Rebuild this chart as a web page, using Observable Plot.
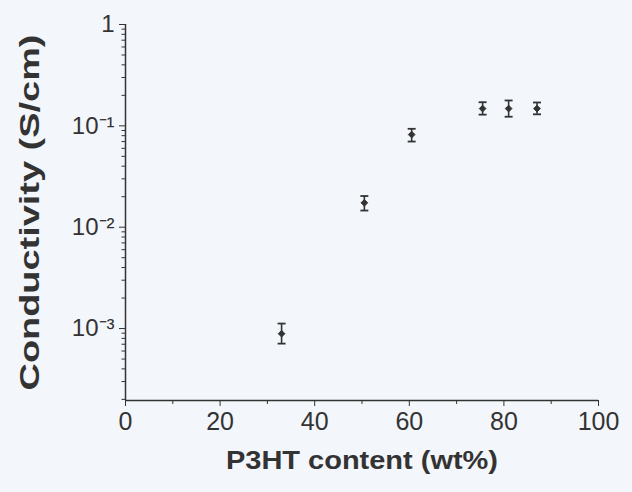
<!DOCTYPE html>
<html>
<head>
<meta charset="utf-8">
<script src="https://cdn.jsdelivr.net/npm/d3@7"></script>
<script src="https://cdn.jsdelivr.net/npm/@observablehq/plot@0.6"></script>
<style>
  html, body { margin: 0; padding: 0; background: #f3f6fa; }
  svg { display: block; }
</style>
</head>
<body>
<div id="chart"></div>
<script>
// Data
const content      = [33, 50.5, 60.5, 75.5, 81, 87];             // P3HT content (wt%)
const conductivity = [8.9e-4, 0.0174, 0.082, 0.148, 0.148, 0.148]; // S/cm
const errLow       = [7.1e-4, 0.0146, 0.070, 0.129, 0.123, 0.130];
const errHigh      = [1.12e-3, 0.0203, 0.0935, 0.171, 0.178, 0.170];

const xTicks = [0, 20, 40, 60, 80, 100];
const xMinorTicks = [10, 30, 50, 70, 90];
const yTicks = [1e-3, 1e-2, 1e-1, 1];
const yTickLabels = ["10\u207B\u00B3", "10\u207B\u00B2", "10\u207B\u00B9", "1"];
const yDomain = [1.95e-4, 1];
const xDomain = [0, 100];

const xLabel = "P3HT content (wt%)";
const yLabel = "Conductivity (S/cm)";

const rows = content.map((c, i) => ({x: c, y: conductivity[i], lo: errLow[i], hi: errHigh[i]}));

const yMinor = [];
for (let k = -4; k < 0; k++) {
  for (let d = 2; d <= 9; d++) {
    const v = d * Math.pow(10, k);
    if (v >= yDomain[0] && v <= yDomain[1]) yMinor.push(v);
  }
}

const ink = "#333";
const font = "Liberation Sans, Arial, Helvetica, sans-serif";

const capSymbol = {
  draw(context, size) {
    const w = Math.sqrt(size) / 2;
    context.moveTo(-w, 0);
    context.lineTo(w, 0);
  }
};

const chart = Plot.plot({
  width: 632,
  height: 492,
  marginLeft: 125,
  marginRight: 34,
  marginTop: 24,
  marginBottom: 92,
  style: {background: "#f3f6fa", fontFamily: font, color: ink},
  x: {domain: xDomain},
  y: {type: "log", domain: yDomain},
  marks: [
    // axis lines
    Plot.ruleY([yDomain[0]], {stroke: ink, strokeWidth: 1.5}),
    Plot.ruleX([xDomain[0]], {stroke: ink, strokeWidth: 1.5}),
    // x axis
    Plot.axisX({ticks: xTicks, tickSize: 6, tickPadding: 6, fontSize: 25, label: null, stroke: ink, fill: ink, tickFormat: d => String(d)}),
    Plot.axisX({ticks: xMinorTicks, tickSize: 4, tickFormat: () => "", label: null, stroke: ink}),
    // y axis
    Plot.axisY({ticks: yTicks, tickSize: 6, tickPadding: 5, fontSize: 24, label: null, stroke: ink, fill: ink,
      tickFormat: d => yTickLabels[yTicks.indexOf(d)]}),
    Plot.axisY({ticks: yMinor, tickSize: 3.5, tickFormat: () => "", label: null, stroke: ink}),
    // error bars
    Plot.ruleX(rows, {x: "x", y1: "lo", y2: "hi", stroke: ink, strokeWidth: 1.6}),
    Plot.dot(rows, {x: "x", y: "lo", symbol: capSymbol, r: 4.5, stroke: ink, strokeWidth: 1.8}),
    Plot.dot(rows, {x: "x", y: "hi", symbol: capSymbol, r: 4.5, stroke: ink, strokeWidth: 1.8}),
    Plot.dot(rows, {x: "x", y: "y", symbol: "diamond2", r: 3, fill: ink, stroke: ink, strokeWidth: 1}),
    // axis titles
    Plot.text([xLabel], {frameAnchor: "bottom", dy: 68, fontSize: 25, fontWeight: "bold", fill: ink, fontFamily: font, textAnchor: "middle", className: "xtitle"}),
    Plot.text([yLabel], {frameAnchor: "left", dx: -95, rotate: -90, fontSize: 28, fontWeight: "bold", fill: ink, fontFamily: font, textAnchor: "middle", className: "ytitle"})
  ]
});

// stretch the axis titles to the widths seen in the reference
chart.querySelectorAll(".xtitle text").forEach(t => { t.setAttribute("textLength", 272); t.setAttribute("lengthAdjust", "spacingAndGlyphs"); });
chart.querySelectorAll(".ytitle text").forEach(t => { t.setAttribute("textLength", 356); t.setAttribute("lengthAdjust", "spacingAndGlyphs"); });

document.getElementById("chart").appendChild(chart);
</script>
</body>
</html>
